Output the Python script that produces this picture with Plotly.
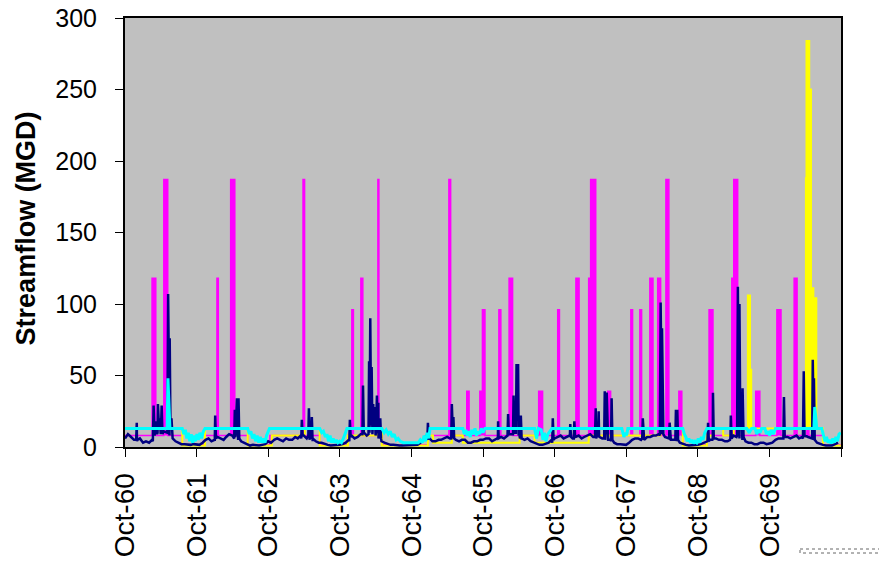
import plotly.graph_objects as go

# ---------------- data ----------------
tick_dates = ["1960-10-01", "1961-10-01", "1962-10-01", "1963-10-01", "1964-10-01",
              "1965-10-01", "1966-10-01", "1967-10-01", "1968-10-01", "1969-10-01", "1970-10-01"]
tick_labels = ["Oct-60", "Oct-61", "Oct-62", "Oct-63", "Oct-64",
               "Oct-65", "Oct-66", "Oct-67", "Oct-68", "Oct-69", ""]
y_ticks = [0, 50, 100, 150, 200, 250, 300]

# magenta series (step levels, each held until the next date)
magenta_dates = [
    "1960-10-01", "1961-02-16", "1961-03-07", "1961-04-17", "1961-05-07", "1961-07-20", "1961-11-13",
    "1962-01-13", "1962-01-20", "1962-03-24", "1962-04-14", "1962-06-19", "1962-10-10",
    "1963-03-28", "1963-04-05", "1963-06-21", "1963-11-12", "1963-12-02", "1963-12-10",
    "1964-01-17", "1964-01-27", "1964-04-13", "1964-04-18", "1964-05-03", "1964-12-24",
    "1965-04-10", "1965-04-19", "1965-07-10", "1965-07-22", "1965-09-15", "1965-09-28", "1965-10-11",
    "1965-12-21", "1965-12-31", "1966-02-11", "1966-03-01", "1966-07-12", "1966-08-01",
    "1966-10-17", "1966-10-26", "1967-01-18", "1967-02-03", "1967-03-24", "1967-04-03", "1967-04-29",
    "1967-06-29", "1967-07-14", "1967-10-25", "1967-11-03", "1967-12-10", "1967-12-19",
    "1968-01-30", "1968-02-15", "1968-03-10", "1968-03-25", "1968-04-21", "1968-05-06",
    "1968-06-26", "1968-07-11", "1968-07-16", "1968-11-16", "1968-11-27", "1968-12-17",
    "1969-03-23", "1969-04-02", "1969-04-22", "1969-07-23", "1969-08-13",
    "1969-11-08", "1969-11-29", "1970-02-04", "1970-02-19", "1970-04-10", "1970-04-20",
    "1970-07-01", "1970-09-30",
]
magenta_vals = [
    8, 118, 8, 187, 8, 1.5, 8,
    118, 8, 187, 8, 1.5, 8,
    187, 8, 1.5, 8, 96, 8,
    118, 8, 187, 8, 1.5, 8,
    187, 8, 39, 8, 39, 96, 8,
    96, 8, 118, 8, 39, 8,
    96, 8, 118, 8, 118, 187, 8,
    39, 8, 96, 8, 96, 8,
    118, 8, 118, 8, 187, 8,
    39, 8, 1.5, 8, 96, 8,
    118, 187, 8, 39, 8,
    96, 8, 118, 8, 118, 8,
    1.5, 1.5,
]

# yellow series (step levels)
yellow_dates = [
    "1960-10-01", "1961-07-20", "1961-11-13", "1962-06-19", "1962-10-20", "1963-04-06",
    "1963-06-21", "1963-11-12", "1964-04-13", "1964-05-03", "1964-12-24", "1965-01-19",
    "1965-04-25", "1965-06-20", "1966-04-06", "1966-06-21", "1967-03-24", "1968-03-25",
    "1968-07-16", "1968-11-16", "1968-12-17", "1969-02-07", "1969-04-02", "1969-06-13",
    "1969-06-24", "1969-06-30", "1970-04-05", "1970-04-08", "1970-04-22", "1970-05-01",
    "1970-05-13", "1970-05-28", "1970-07-01", "1970-09-30",
]
yellow_vals = [
    13, 1, 13, 1, 8, 13,
    1, 8, 13, 1, 8, 3,
    8, 3, 8, 3, 8, 13,
    1, 8, 13, 8, 13, 106,
    54, 13, 188, 284, 250, 111,
    104, 13, 1, 1,
]

# navy series: twice-monthly readings of the base flow
navy_base_dates = []
navy_base_vals = [
    6, 9, 7, 5, 4, 6,                                   # Oct-Dec 1960
    3, 4, 3, 5, 8, 10, 9, 11, 10, 8, 6, 4, 3, 2, 2, 1.5, 1.5, 2, 2, 1.5, 3, 5, 6, 4,   # 1961
    5, 7, 6, 5, 7, 9, 8, 7, 5, 4, 3, 2, 1, 1.5, 1, 1, 1.5, 2, 4, 3, 5, 6, 5, 4,        # 1962
    6, 5, 5, 7, 6, 8, 8, 6, 5, 4, 4, 3, 3, 2, 1.5, 1, 1, 1.5, 1.5, 2, 3, 5, 8, 6,      # 1963
    7, 9, 9, 8, 10, 9, 8, 6, 4, 3, 2, 1.5, 1.5, 1, 1, 1, 1, 1, 1, 1.5, 1.5, 3, 5, 8,   # 1964
    6, 4, 4, 5, 5, 6, 7, 6, 6, 5, 4, 5, 5, 3, 3, 4, 4, 5, 5, 6, 6, 4, 5, 7,            # 1965
    7, 6, 8, 9, 9, 10, 8, 6, 5, 6, 4, 3, 2, 1.5, 1.5, 2, 3, 5, 6, 7, 8, 6, 7, 8,       # 1966
    6, 7, 8, 6, 7, 8, 9, 7, 6, 8, 6, 5, 5, 4, 3, 2, 2, 1.5, 1.5, 3, 5, 6, 6, 5,        # 1967
    5, 7, 7, 8, 8, 9, 9, 7, 6, 5, 5, 4, 3, 2, 1.5, 1, 1, 1, 1.5, 2, 3, 4, 5, 6,        # 1968
    6, 5, 5, 4, 4, 6, 8, 7, 6, 5, 4, 3, 3, 2, 2, 3, 3, 2, 2.5, 3, 5, 6, 6, 7,          # 1969
    7, 6, 7, 8, 6, 7, 8, 7, 6, 5, 3, 2, 1.5, 1, 1, 1, 2, 3,                            # Jan-Sep 1970
]
for yr in range(1960, 1971):
    for mo in range(1, 13):
        if (yr == 1960 and mo < 10) or (yr == 1970 and mo > 9):
            continue
        navy_base_dates.append(f"{yr}-{mo:02d}-01")
        navy_base_dates.append(f"{yr}-{mo:02d}-16")

# navy storm events (date, value)
navy_event_dates = [
    "1960-11-27", "1960-11-30", "1960-12-03",
    "1961-02-20", "1961-02-24", "1961-03-02", "1961-03-10", "1961-03-14", "1961-03-18", "1961-03-24",
    "1961-03-28", "1961-04-02", "1961-04-06", "1961-04-10",
    "1961-05-05", "1961-05-09", "1961-05-13", "1961-05-17", "1961-05-21", "1961-05-26", "1961-05-30",
    "1962-01-02", "1962-01-04", "1962-01-08",
    "1962-04-11", "1962-04-14", "1962-04-18", "1962-04-25", "1962-04-29", "1962-05-03", "1962-05-07",
    "1963-03-19", "1963-03-22", "1963-03-26", "1963-04-24", "1963-04-27", "1963-05-01",
    "1963-05-09", "1963-05-12", "1963-05-16",
    "1963-11-19", "1963-11-22", "1963-11-26",
    "1964-01-25", "1964-01-28", "1964-02-02", "1964-02-25", "1964-02-28", "1964-03-02", "1964-03-05",
    "1964-03-09", "1964-03-12", "1964-03-17", "1964-03-20", "1964-03-24", "1964-03-28", "1964-04-03",
    "1964-04-08", "1964-04-12", "1964-04-15", "1964-04-20", "1964-04-25", "1964-04-29",
    "1964-12-21", "1964-12-24", "1964-12-28",
    "1965-04-22", "1965-04-25", "1965-04-29", "1965-05-03", "1965-05-07",
    "1965-12-13", "1965-12-17", "1965-12-20",
    "1966-02-03", "1966-02-06", "1966-02-10", "1966-03-03", "1966-03-06", "1966-03-10", "1966-03-18",
    "1966-03-21", "1966-03-25", "1966-03-29", "1966-04-02", "1966-04-08", "1966-04-12", "1966-04-17",
    "1966-09-19", "1966-09-22", "1966-09-26",
    "1966-12-18", "1966-12-20", "1966-12-24", "1967-01-07", "1967-01-10", "1967-01-14",
    "1967-04-25", "1967-04-29", "1967-05-03", "1967-05-11", "1967-05-14", "1967-05-18",
    "1967-06-11", "1967-06-14", "1967-06-18", "1967-06-24", "1967-06-28",
    "1967-07-15", "1967-07-19", "1967-07-23",
    "1967-12-22", "1967-12-25", "1967-12-29",
    "1968-03-21", "1968-03-25", "1968-03-28", "1968-04-01", "1968-04-04", "1968-04-08",
    "1968-05-07", "1968-05-10", "1968-05-14",
    "1968-06-08", "1968-06-11", "1968-06-15", "1968-06-18", "1968-06-22",
    "1968-11-19", "1968-11-22", "1968-11-26", "1968-12-14", "1968-12-17", "1968-12-21",
    "1969-03-14", "1969-03-18", "1969-03-22",
    "1969-04-19", "1969-04-23", "1969-04-27", "1969-05-01", "1969-05-05", "1969-05-10",
    "1969-05-14", "1969-05-17", "1969-05-22",
    "1969-12-11", "1969-12-14", "1969-12-18",
    "1970-03-21", "1970-03-25", "1970-03-29",
    "1970-05-07", "1970-05-10", "1970-05-13", "1970-05-16", "1970-05-20",
]
navy_event_vals = [
    5, 17, 5,
    4, 29, 10, 18, 9, 30, 12,
    20, 10, 29, 9,
    10, 107, 30, 76, 12, 20, 7,
    5, 22, 6,
    6, 26, 9, 34, 12, 34, 6,
    6, 19, 8, 8, 27, 8,
    6, 21, 6,
    4, 19, 7,
    9, 43, 10, 9, 60, 20, 90,
    15, 56, 12, 30, 12, 28, 10,
    36, 10, 31, 8, 20, 6,
    5, 17, 6,
    6, 30, 8, 21, 6,
    6, 18, 6,
    8, 23, 9, 9, 36, 10, 10,
    58, 20, 58, 10, 6, 22, 6,
    3, 20, 5,
    7, 16, 7, 6, 18, 7,
    7, 27, 7, 8, 25, 7,
    6, 39, 12, 38, 8,
    5, 34, 5,
    6, 20, 5,
    8, 101, 30, 83, 26, 9,
    6, 17, 5,
    5, 26, 6, 26, 5,
    4, 17, 4, 5, 38, 6,
    5, 22, 6,
    8, 112, 30, 100, 20, 31,
    12, 41, 7,
    6, 35, 7,
    6, 53, 7,
    6, 61, 30, 48, 5,
]

# cyan series
cyan_dates = [
    "1960-10-01", "1961-05-04", "1961-05-08", "1961-05-13", "1961-05-18",
    "1961-07-20", "1961-07-28", "1961-08-05", "1961-08-12", "1961-08-20", "1961-08-27", "1961-09-04",
    "1961-09-11", "1961-09-18", "1961-09-25", "1961-10-03", "1961-10-10", "1961-10-18", "1961-10-26",
    "1961-11-05", "1961-11-13",
    "1962-06-19", "1962-06-27", "1962-07-05", "1962-07-13", "1962-07-21", "1962-07-29", "1962-08-06",
    "1962-08-14", "1962-08-22", "1962-08-30", "1962-09-07", "1962-09-15", "1962-09-23", "1962-09-30",
    "1962-10-08",
    "1963-06-21", "1963-07-01", "1963-07-10", "1963-07-20", "1963-07-28", "1963-08-05", "1963-08-13",
    "1963-08-21", "1963-08-29", "1963-09-06", "1963-09-14", "1963-09-22", "1963-10-01", "1963-10-10",
    "1963-10-20", "1963-10-28", "1963-11-07",
    "1964-05-03", "1964-05-15", "1964-05-25", "1964-06-05", "1964-06-15", "1964-06-25", "1964-07-05",
    "1964-07-15", "1964-07-25", "1964-08-05", "1964-08-20", "1964-09-10", "1964-10-01", "1964-10-20",
    "1964-11-05", "1964-11-15", "1964-11-25", "1964-12-05", "1964-12-12", "1964-12-20", "1964-12-28",
    "1965-01-04",
    "1965-06-20", "1965-06-28", "1965-07-05", "1965-07-12", "1965-07-20", "1965-07-28", "1965-08-05",
    "1965-08-13", "1965-08-21", "1965-08-29", "1965-09-06", "1965-09-14", "1965-09-22", "1965-10-01",
    "1965-10-11",
    "1966-06-21", "1966-07-01", "1966-07-10", "1966-07-25", "1966-08-03", "1966-08-10", "1966-08-18",
    "1966-08-28", "1966-09-08", "1966-09-17",
    "1967-09-09", "1967-09-20", "1967-09-28", "1967-10-03", "1967-10-10",
    "1968-07-16", "1968-07-24", "1968-08-01", "1968-08-08", "1968-08-16", "1968-08-24", "1968-09-01",
    "1968-09-09", "1968-09-17", "1968-09-25", "1968-10-03", "1968-10-11", "1968-10-19", "1968-10-27",
    "1968-11-05", "1968-11-16",
    "1969-06-08", "1969-06-20", "1969-07-02", "1969-07-20", "1969-07-28", "1969-08-06", "1969-08-14",
    "1969-08-22", "1969-09-08", "1969-09-16", "1969-09-24", "1969-10-02", "1969-10-10", "1969-10-20",
    "1969-11-01",
    "1970-05-16", "1970-05-20", "1970-05-26", "1970-05-30", "1970-06-25", "1970-07-03", "1970-07-11",
    "1970-07-19", "1970-07-27", "1970-08-04", "1970-08-12", "1970-08-20", "1970-08-28", "1970-09-05",
    "1970-09-13", "1970-09-21", "1970-09-30",
]
cyan_vals = [
    13, 13, 48, 30, 13,
    13, 9, 12, 6, 10, 4, 9,
    3, 8, 4, 9, 5, 10, 6,
    11, 13,
    13, 9, 11, 6, 9, 4, 8,
    3, 7, 3, 6, 3, 8, 11,
    13,
    13, 10, 11, 7, 9, 4, 8,
    3, 6, 3, 5, 3, 4, 3,
    6, 9, 13,
    13, 10, 12, 9, 11, 7, 9,
    5, 6, 4, 3, 3, 2.5, 3,
    3, 5, 3, 8, 4, 10, 6,
    13,
    13, 9, 12, 8, 11, 7, 12,
    9, 13, 8, 11, 9, 13, 10,
    13,
    13, 6, 13, 12, 5, 10, 4,
    9, 11, 13,
    13, 7, 10, 8, 13,
    13, 9, 7, 4, 6, 3, 5,
    2.5, 4, 3, 6, 3, 7, 5,
    10, 13,
    13, 10, 13, 13, 9, 12, 10,
    13, 13, 9, 11, 8, 12, 9,
    13,
    13, 28, 20, 13, 13, 8, 4,
    7, 3, 5, 2.5, 6, 3, 7,
    4, 9, 10,
]

# ---------------- figure ----------------
MAGENTA = "#FF00FF"
YELLOW = "#FFFF00"
NAVY = "#000080"
CYAN = "#00FFFF"

navy_pairs = sorted(zip(navy_base_dates + navy_event_dates, navy_base_vals + navy_event_vals))
navy_dates = [d for d, _ in navy_pairs]
navy_vals = [v for _, v in navy_pairs]

fig = go.Figure()

# magenta: invisible base level, then the series filled to it so the storm blocks are solid
fig.add_trace(go.Scatter(x=magenta_dates, y=[min(v, 8) for v in magenta_vals], mode="lines",
                         line=dict(width=0, shape="hv"), hoverinfo="skip", showlegend=False))
fig.add_trace(go.Scatter(x=magenta_dates, y=magenta_vals, mode="lines",
                         line=dict(color=MAGENTA, width=1.5, shape="hv"),
                         fill="tonexty", fillcolor=MAGENTA, showlegend=False))
# yellow
fig.add_trace(go.Scatter(x=yellow_dates, y=[min(v, 13) for v in yellow_vals], mode="lines",
                         line=dict(width=0, shape="hv"), hoverinfo="skip", showlegend=False))
fig.add_trace(go.Scatter(x=yellow_dates, y=yellow_vals, mode="lines",
                         line=dict(color=YELLOW, width=2, shape="hv"),
                         fill="tonexty", fillcolor=YELLOW, showlegend=False))
# navy
fig.add_trace(go.Scatter(x=navy_dates, y=navy_vals, mode="lines",
                         line=dict(color=NAVY, width=2.5), showlegend=False))
# cyan
fig.add_trace(go.Scatter(x=cyan_dates, y=cyan_vals, mode="lines",
                         line=dict(color=CYAN, width=3), showlegend=False))

FONT = "Arial, 'Liberation Sans', sans-serif"

fig.update_layout(
    width=879, height=561,
    margin=dict(l=125, r=38, t=18, b=114, autoexpand=False),
    paper_bgcolor="white",
    plot_bgcolor="#C0C0C0",
    showlegend=False,
    font=dict(family=FONT, color="black"),
    xaxis=dict(
        type="date", automargin=False,
        range=["1960-10-01", "1970-10-01"],
        tickmode="array", tickvals=tick_dates, ticktext=tick_labels,
        tickangle=-90, tickfont=dict(size=28, family=FONT, color="black"),
        ticks="outside", ticklen=8, tickwidth=1, tickcolor="black",
        showline=True, linecolor="black", linewidth=2, mirror=True,
        showgrid=False, zeroline=False,
        ticklabelstandoff=5,
    ),
    yaxis=dict(
        automargin=False,
        range=[0, 300],
        tickmode="array", tickvals=y_ticks,
        tickfont=dict(size=25, family=FONT, color="black"),
        ticks="outside", ticklen=8, tickwidth=1, tickcolor="black",
        showline=True, linecolor="black", linewidth=2, mirror=True,
        showgrid=False, zeroline=False,
        ticklabelstandoff=13,
    ),
    annotations=[dict(
        text="<b>Streamflow (MGD)</b>", xref="paper", yref="paper",
        x=-0.138, y=0.51, xanchor="center", yanchor="middle", textangle=-90,
        showarrow=False, font=dict(size=27, family=FONT, color="black"),
    )],
    shapes=[dict(
        type="rect", xref="paper", yref="paper",
        x0=(800 - 125) / 716, x1=(900 - 125) / 716,
        y0=(447 - 549) / 429, y1=(447 - 553) / 429,
        line=dict(color="#666666", width=1, dash="dot"), fillcolor="rgba(0,0,0,0)",
    )],
)

fig.write_html("out.html")
